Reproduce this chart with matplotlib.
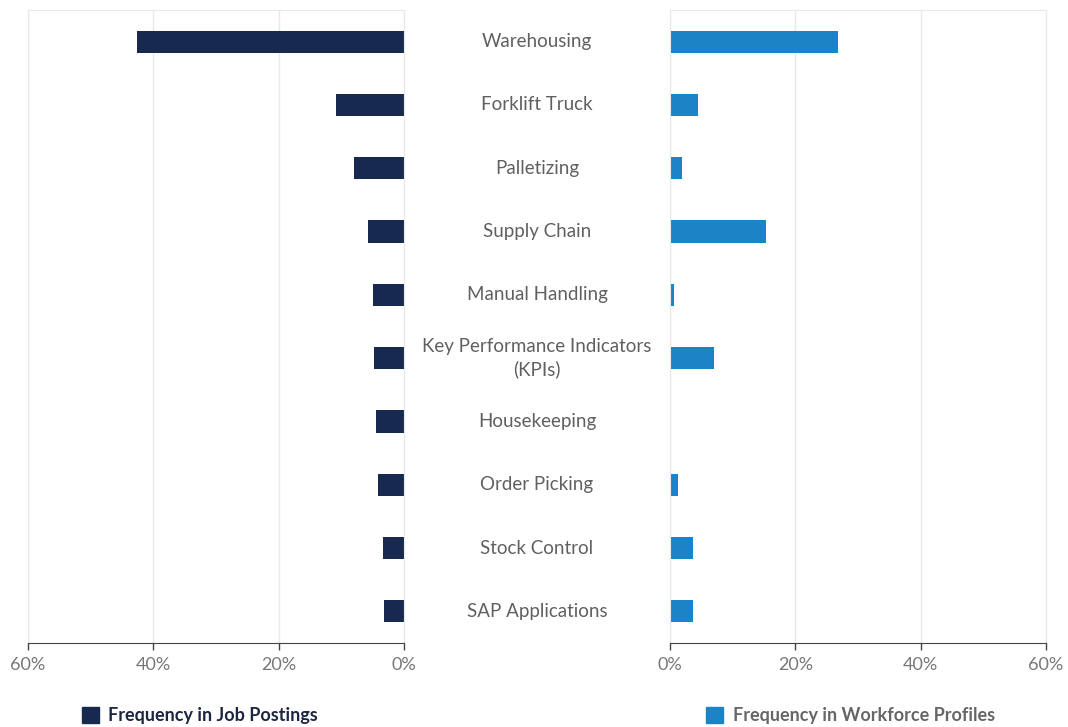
import matplotlib.pyplot as plt
from matplotlib.transforms import blended_transform_factory
import numpy as np

plt.rcParams['font.family'] = ['Lato', 'DejaVu Sans']

skills = ["Warehousing", "Forklift Truck", "Palletizing", "Supply Chain",
          "Manual Handling", "Key Performance Indicators\n(KPIs)", "Housekeeping",
          "Order Picking", "Stock Control", "SAP Applications"]
job_postings = [42.6, 10.9, 8.0, 5.7, 5.0, 4.8, 4.5, 4.1, 3.4, 3.2]
workforce = [26.8, 4.5, 1.9, 15.3, 0.7, 7.1, 0.0, 1.2, 3.6, 3.6]
ticks = [0, 20, 40, 60]
tick_labels = ["0%", "20%", "40%", "60%"]

navy = "#17294f"
blue = "#1b84c6"
grid_c = "#e8e8e8"
text_c = "#606060"

fig = plt.figure(figsize=(10.68, 7.27), dpi=100)
ax_l = fig.add_axes([28/1068, 1-643/727, 376/1068, 633/727])
ax_r = fig.add_axes([670/1068, 1-643/727, 376/1068, 633/727])

y = np.arange(len(skills))
ax_l.barh(y, job_postings, height=0.35, color=navy)
ax_r.barh(y, workforce, height=0.35, color=blue)

for ax in (ax_l, ax_r):
    ax.set_ylim(len(skills) - 0.5, -0.5)
    ax.set_yticks([])
    ax.set_xticks(ticks)
    ax.set_xticklabels(tick_labels)
    ax.grid(axis='x', color=grid_c, linewidth=1)
    ax.set_axisbelow(True)
    for s in ('top', 'left', 'right'):
        ax.spines[s].set_color(grid_c)
    ax.spines['bottom'].set_color("#444444")
    ax.tick_params(axis='x', colors="#444444", labelcolor="#777777",
                   labelsize=13, length=5, width=1, pad=5)

ax_l.set_xlim(60, 0)
ax_r.set_xlim(0, 60)

trans = blended_transform_factory(fig.transFigure, ax_r.transData)
for yi, name in zip(y, skills):
    ax_r.text(537/1068, yi, name, transform=trans, ha='center', va='center',
              fontsize=13.5, color=text_c, linespacing=1.35, clip_on=False)

# legends
fig.patches.append(plt.Rectangle((82/1068, 1-723/727), 17/1068, 16/727,
                                 transform=fig.transFigure, color=navy))
fig.text(108/1068, 1-716/727, "Frequency in Job Postings", fontsize=13,
         fontweight='bold', color="#1d2640", va='center')
fig.patches.append(plt.Rectangle((706/1068, 1-723/727), 17/1068, 16/727,
                                 transform=fig.transFigure, color=blue))
fig.text(733/1068, 1-716/727, "Frequency in Workforce Profiles", fontsize=13,
         fontweight='bold', color="#666666", va='center')

fig.savefig("out.png", dpi=100)
